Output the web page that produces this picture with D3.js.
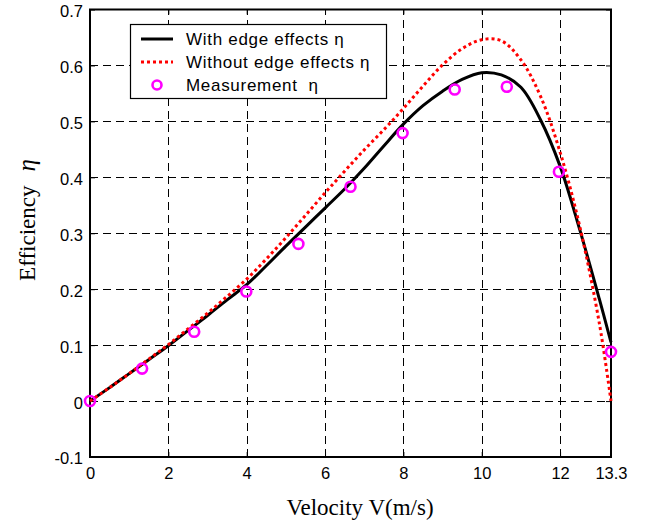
<!DOCTYPE html>
<html>
<head>
<meta charset="utf-8">
<script src="https://cdn.jsdelivr.net/npm/d3@7/dist/d3.min.js"></script>
<style>
  html, body { margin: 0; padding: 0; background: #fff; }
  svg { display: block; }
</style>
</head>
<body>
<svg id="chart" width="657" height="524"></svg>
<script>
// Wind speed (m/s) at which the curves are sampled
const curveSpeed = [0, 0.5, 1, 1.5, 2, 2.5, 3, 3.5, 4, 4.5, 5, 5.5, 6, 6.5, 7, 7.5, 8, 8.5, 9, 9.5, 10, 10.5, 11, 11.5, 12, 12.5, 13, 13.3];
// Efficiency with edge effects
const etaWithEdge = [0, 0.024, 0.049, 0.074, 0.099, 0.126, 0.153, 0.181, 0.208, 0.242, 0.277, 0.311, 0.345, 0.379, 0.416, 0.456, 0.495, 0.528, 0.554, 0.575, 0.587, 0.583, 0.561, 0.503, 0.420, 0.307, 0.183, 0.105];
// Efficiency without edge effects
const etaWithoutEdge = [0, 0.024, 0.049, 0.075, 0.101, 0.129, 0.157, 0.187, 0.218, 0.254, 0.292, 0.332, 0.372, 0.411, 0.449, 0.485, 0.523, 0.563, 0.601, 0.630, 0.646, 0.644, 0.610, 0.545, 0.445, 0.313, 0.140, 0];
// Measured points
const measSpeed = [0, 1.33, 2.66, 3.99, 5.32, 6.65, 7.98, 9.31, 10.64, 11.97, 13.3];
const measEta = [0, 0.058, 0.124, 0.196, 0.281, 0.383, 0.479, 0.557, 0.562, 0.410, 0.088];
// Axis ticks
const xTicks = [0, 2, 4, 6, 8, 10, 12, 13.3];
const xTickLabels = ["0", "2", "4", "6", "8", "10", "12", "13.3"];
const yTicks = [-0.1, 0, 0.1, 0.2, 0.3, 0.4, 0.5, 0.6, 0.7];
const yTickLabels = ["-0.1", "0", "0.1", "0.2", "0.3", "0.4", "0.5", "0.6", "0.7"];
const legendLabels = ["With edge effects \u03B7", "Without edge effects \u03B7", "Measurement  \u03B7"];

const svg = d3.select("#chart");
const L = 90, R = 611, T = 9.5, B = 457;

const x = d3.scaleLinear().domain([0, 13.3]).range([L, R]);
const y = d3.scaleLinear().domain([-0.1, 0.7]).range([B, T]);

const sansFont = "'Liberation Sans', Arial, sans-serif";
const serifFont = "'Liberation Serif', 'Times New Roman', serif";

// Dashed grid
const grid = svg.append("g").attr("stroke", "#000").attr("stroke-width", 1)
  .attr("stroke-dasharray", "8,5").attr("fill", "none");
xTicks.filter(v => v > 0 && v < 13.3).forEach(v => {
  grid.append("line").attr("x1", Math.round(x(v)) + 0.5).attr("x2", Math.round(x(v)) + 0.5)
    .attr("y1", B).attr("y2", T);
});
yTicks.filter(v => v > -0.1 && v < 0.7).forEach(v => {
  grid.append("line").attr("y1", Math.round(y(v)) + 0.5).attr("y2", Math.round(y(v)) + 0.5)
    .attr("x1", L).attr("x2", R);
});

// Axes with inward ticks
const xAxis = d3.axisBottom(x).tickValues(xTicks)
  .tickFormat((d, i) => xTickLabels[i]).tickSizeInner(-5).tickSizeOuter(0).tickPadding(10);
const yAxis = d3.axisLeft(y).tickValues(yTicks)
  .tickFormat((d, i) => yTickLabels[i]).tickSizeInner(-5).tickSizeOuter(0).tickPadding(7);

const gx = svg.append("g").attr("transform", `translate(0,${B})`).call(xAxis);
const gy = svg.append("g").attr("transform", `translate(${L},0)`).call(yAxis);
[gx, gy].forEach(g => {
  g.select(".domain").remove();
  g.selectAll(".tick line").attr("stroke", "#000").attr("stroke-width", 1);
  g.selectAll(".tick text").attr("fill", "#000")
    .style("font-family", sansFont).style("font-size", "16.5px");
});
gy.selectAll(".tick text").attr("dy", "0.42em");

// Top and right ticks
const gxTop = svg.append("g").attr("transform", `translate(0,${T})`)
  .call(d3.axisTop(x).tickValues(xTicks).tickSizeInner(-5).tickSizeOuter(0).tickFormat(""));
const gyRight = svg.append("g").attr("transform", `translate(${R},0)`)
  .call(d3.axisRight(y).tickValues(yTicks).tickSizeInner(-5).tickSizeOuter(0).tickFormat(""));
[gxTop, gyRight].forEach(g => {
  g.select(".domain").remove();
  g.selectAll(".tick line").attr("stroke", "#000");
});

// Frame
svg.append("rect").attr("x", L).attr("y", T).attr("width", R - L).attr("height", B - T)
  .attr("fill", "none").attr("stroke", "#000").attr("stroke-width", 2);

// Curves
const line = (ys) => d3.line()
  .x((d, i) => x(curveSpeed[i])).y((d, i) => y(ys[i]))
  .curve(d3.curveCatmullRom.alpha(0.5))(ys);

svg.append("path").attr("d", line(etaWithEdge))
  .attr("fill", "none").attr("stroke", "#000").attr("stroke-width", 3);
svg.append("path").attr("d", line(etaWithoutEdge))
  .attr("fill", "none").attr("stroke", "#ff0000").attr("stroke-width", 3)
  .attr("stroke-dasharray", "3,3");

// Measurements
svg.append("g").selectAll("circle").data(measEta).join("circle")
  .attr("cx", (d, i) => x(measSpeed[i])).attr("cy", d => y(d)).attr("r", 5)
  .attr("fill", "none").attr("stroke", "#ff00ff").attr("stroke-width", 2.6);

// Legend
const lg = svg.append("g");
lg.append("rect").attr("x", 130.5).attr("y", 24.5).attr("width", 256).attr("height", 74)
  .attr("fill", "#fff").attr("stroke", "#000").attr("stroke-width", 1.2);
const rowY = [39, 62, 85];
lg.append("line").attr("x1", 141).attr("x2", 173).attr("y1", rowY[0]).attr("y2", rowY[0])
  .attr("stroke", "#000").attr("stroke-width", 3);
lg.append("line").attr("x1", 141).attr("x2", 173).attr("y1", rowY[1]).attr("y2", rowY[1])
  .attr("stroke", "#ff0000").attr("stroke-width", 3).attr("stroke-dasharray", "3,3");
lg.append("circle").attr("cx", 157).attr("cy", rowY[2]).attr("r", 4.5)
  .attr("fill", "none").attr("stroke", "#ff00ff").attr("stroke-width", 2.6);
lg.selectAll("text.lab").data(legendLabels).join("text").attr("class", "lab")
  .attr("x", 186).attr("y", (d, i) => rowY[i] + 6)
  .attr("xml:space", "preserve")
  .style("white-space", "pre")
  .style("font-family", sansFont).style("font-size", "17px")
  .style("letter-spacing", "0.7px").attr("fill", "#000")
  .text(d => d);

// Axis titles
svg.append("text").attr("x", 360).attr("y", 515).attr("text-anchor", "middle")
  .style("font-family", serifFont).style("font-size", "23px").attr("fill", "#000")
  .text("Velocity V(m/s)");

const yl = svg.append("text").attr("transform", "translate(35,220) rotate(-90)")
  .attr("text-anchor", "middle")
  .style("font-family", serifFont).style("font-size", "23px").attr("fill", "#000");
yl.append("tspan").text("Efficiency");
yl.append("tspan").attr("dx", 14).style("font-style", "italic").style("font-size", "25px").text("\u03B7");
</script>
</body>
</html>
